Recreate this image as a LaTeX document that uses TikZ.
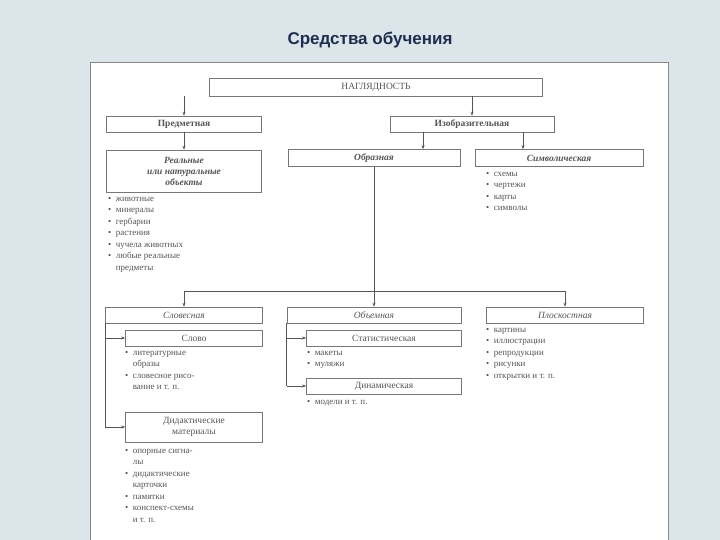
\documentclass[tikz,border=0pt]{standalone}
\usepackage{fontspec}
\setmainfont{Liberation Serif}
\newfontfamily\titlefont{Liberation Sans}
\usetikzlibrary{arrows.meta}
\definecolor{bg}{HTML}{DCE5E9}
\definecolor{ink}{HTML}{555555}
\definecolor{ttl}{HTML}{1E2E4E}
\tikzset{
  bx/.style={draw=ink!80, line width=0.6pt, inner sep=0pt, text=ink, font=\fontsize{9.5}{11}\selectfont},
  it/.style={font=\fontsize{9.5}{11}\selectfont\itshape},
  ln/.style={draw=ink, line width=0.6pt},
  ar/.style={ln, -{Stealth[length=4pt,width=3pt]}},
  lst/.style={anchor=north west, text=ink, inner sep=0pt, align=left, font=\fontsize{9}{11.5}\selectfont}
}
\newcommand{\bl}{\textbullet\ \ }
\newcommand{\ph}{\phantom{\bl}}
\begin{document}
\begin{tikzpicture}[x=1pt,y=-1pt]
\useasboundingbox (0,0) rectangle (720,540);
\fill[bg] (0,0) rectangle (720,540);
\fill[white] (90,62) rectangle (668,540);
\draw[ink!70, line width=0.8pt] (90,62) -- (90,540) (668,62) -- (668,540) (90,62) -- (668,62);
\node[font=\titlefont\bfseries\fontsize{17}{20}\selectfont, text=ttl] (title) at (370,40) {Средства обучения};

\node[bx,minimum width=333,minimum height=18] (nag) at (376,87) {НАГЛЯДНОСТЬ};
\node[bx,minimum width=155,minimum height=16] (pred) at (184,124) {\bfseries Предметная};
\node[bx,minimum width=164,minimum height=16] (izo) at (472,124) {\bfseries Изобразительная};
\node[bx,it,minimum width=155,minimum height=42,align=center] (real) at (184,171) {\bfseries Реальные\\\bfseries или натуральные\\\bfseries объекты};
\node[bx,it,minimum width=172,minimum height=17] (obr) at (374,158) {\bfseries Образная};
\node[bx,it,minimum width=168,minimum height=17] (sym) at (559,158) {\bfseries Символическая};

\draw[ar] (nag.south -| pred) -- (pred.north);
\draw[ar] (nag.south -| izo) -- (izo.north);
\draw[ar] (pred) -- (real);
\draw[ar] (izo.south -| 423,0) -- (obr.north -| 423,0);
\draw[ar] (izo.south -| 523,0) -- (sym.north -| 523,0);

\node[lst] (l1) at (108,197) {\bl животные\\\bl минералы\\\bl гербарии\\\bl растения\\\bl чучела животных\\\bl любые реальные\\\ph предметы};
\node[lst] (l2) at (486,172) {\bl схемы\\\bl чертежи\\\bl карты\\\bl символы};

\node[bx,it,minimum width=157,minimum height=16] (slov) at (184,315) {Словесная};
\node[bx,it,minimum width=174,minimum height=16] (obj) at (374,315) {Объемная};
\node[bx,it,minimum width=157,minimum height=16] (plos) at (565,315) {Плоскостная};
\coordinate (jn) at (374,291);
\draw[ln] (obr.south) -- (jn);
\draw[ln] (184,291) -- (565,291);
\draw[ar] (184,291) -- (slov.north);
\draw[ar] (jn) -- (obj.north);
\draw[ar] (565,291) -- (plos.north);

\node[bx,minimum width=137,minimum height=16] (slovo) at (194,338) {Слово};
\node[bx,minimum width=137,minimum height=30,align=center] (did) at (194,427) {Дидактические\\материалы};
\node[bx,minimum width=155,minimum height=16] (stat) at (384,338) {Статистическая};
\node[bx,minimum width=155,minimum height=16] (din) at (384,386) {Динамическая};
\coordinate (c1) at (slov.south west);
\coordinate (c2) at (obj.south west);
\draw[ln] (c1) -- (c1 |- did);
\draw[ar] (c1 |- slovo) -- (slovo.west);
\draw[ar] (c1 |- did) -- (did.west);
\draw[ln] (c2) -- (c2 |- din);
\draw[ar] (c2 |- stat) -- (stat.west);
\draw[ar] (c2 |- din) -- (din.west);

\node[lst] (l3) at (125,351) {\bl литературные\\\ph образы\\\bl словесное рисо-\\\ph вание и т. п.};
\node[lst] (l4) at (125,449) {\bl опорные сигна-\\\ph лы\\\bl дидактические\\\ph карточки\\\bl памятки\\\bl конспект-схемы\\\ph и т. п.};
\node[lst] (l5) at (307,351) {\bl макеты\\\bl муляжи};
\node[lst] (l6) at (307,400) {\bl модели и т. п.};
\node[lst] (l7) at (486,328) {\bl картины\\\bl иллюстрации\\\bl репродукции\\\bl рисунки\\\bl открытки и т. п.};
\end{tikzpicture}
\end{document}
